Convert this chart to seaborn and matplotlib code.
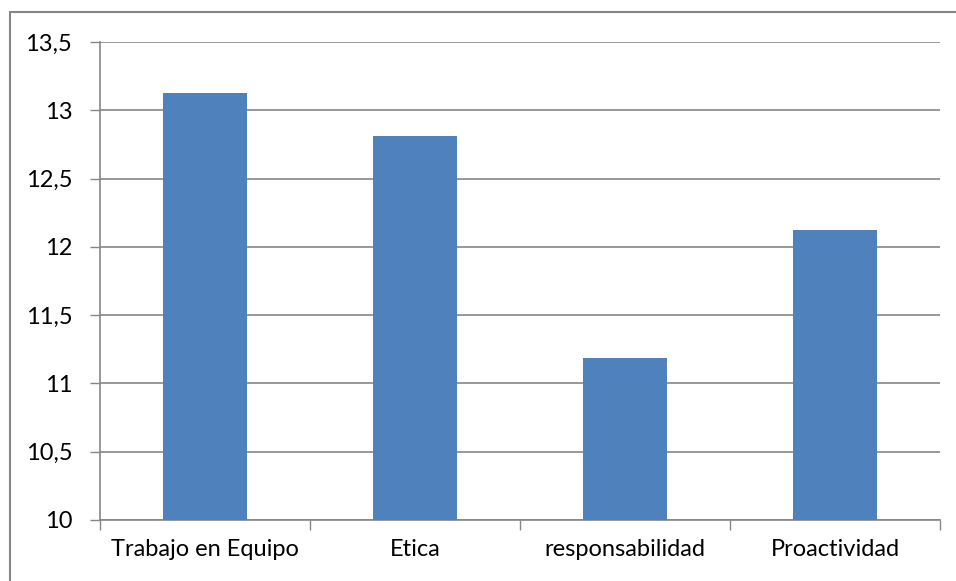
import matplotlib
matplotlib.use("Agg")
import matplotlib.pyplot as plt
import seaborn as sns
import pandas as pd
from matplotlib.ticker import FuncFormatter, FixedLocator
from matplotlib.patches import Rectangle

categories = ["Trabajo en Equipo", "Etica", "responsabilidad", "Proactividad"]
values = [13.125, 12.8125, 11.1875, 12.125]
y_ticks = [10, 10.5, 11, 11.5, 12, 12.5, 13, 13.5]

df = pd.DataFrame({"cat": categories, "val": values})

sns.set_theme(style="white")
plt.rcParams["font.family"] = ["Lato", "DejaVu Sans"]

fig = plt.figure(figsize=(9.56, 5.81), dpi=100)
ax = fig.add_axes([100/956, 1 - 520/581, 840/956, 478/581])

sns.barplot(data=df, x="cat", y="val", color="#4F81BD", width=0.4,
            saturation=1, ax=ax, zorder=3)
for p in ax.patches:
    p.set_edgecolor("none")

ax.set_ylim(10, 13.5)
ax.set_xlim(-0.5, 3.5)
ax.set_yticks(y_ticks)
ax.yaxis.set_major_formatter(FuncFormatter(lambda v, p: ("%g" % v).replace(".", ",")))
ax.grid(axis="y", color="#868686", linewidth=1.2, zorder=0)
ax.set_axisbelow(True)

ax.set_xticks([-0.5, 0.5, 1.5, 2.5, 3.5])
ax.set_xticklabels([])
ax.xaxis.set_minor_locator(FixedLocator([0, 1, 2, 3]))
ax.set_xticklabels(categories, minor=True)
ax.tick_params(axis="x", which="major", length=7, width=1, color="#868686", direction="out", bottom=True)
ax.tick_params(axis="x", which="minor", length=0, labelsize=17, pad=14, colors="black")
ax.tick_params(axis="y", length=7, width=1, color="#868686", direction="out", left=True, labelsize=17, pad=13, labelcolor="black")

ax.set_xlabel("")
ax.set_ylabel("")
for s in ["top", "right"]:
    ax.spines[s].set_visible(False)
for s in ["left", "bottom"]:
    ax.spines[s].set_color("#868686")
    ax.spines[s].set_linewidth(1.2)

# outer chart border (extends past the right/bottom edges as in the reference)
border = Rectangle((10/956, -0.05), 1.0, 1 - 12/581 + 0.05,
                   transform=fig.transFigure, fill=False,
                   edgecolor="#868686", linewidth=1.5, clip_on=False)
fig.add_artist(border)

fig.savefig("out.png", dpi=100)
